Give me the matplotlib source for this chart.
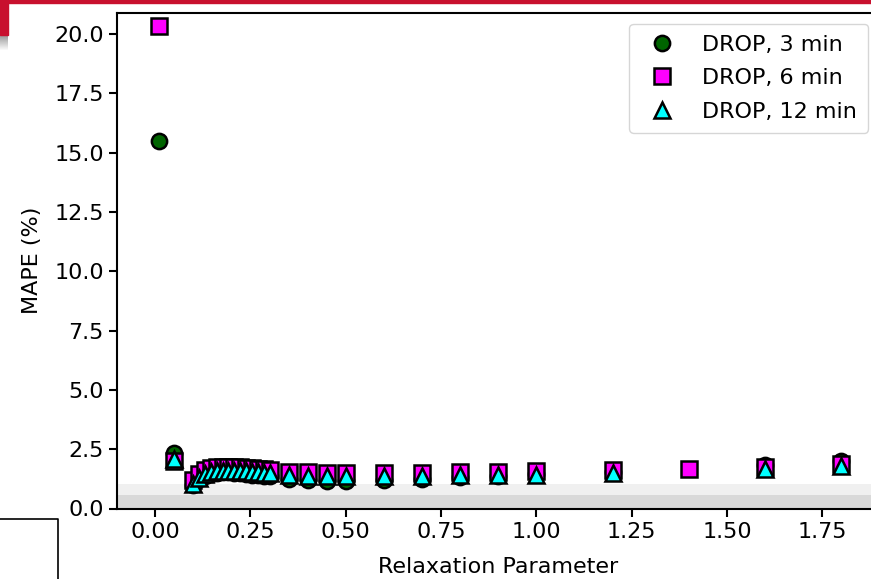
import numpy as np
import matplotlib
matplotlib.use('Agg')
import matplotlib.pyplot as plt
from matplotlib.patches import Rectangle
from matplotlib.lines import Line2D

# relaxation parameter values
relax = [0.01, 0.05, 0.10, 0.115, 0.13, 0.146, 0.162, 0.177, 0.192, 0.208,
         0.223, 0.238, 0.254, 0.269, 0.285, 0.30, 0.35, 0.40, 0.45, 0.50,
         0.60, 0.70, 0.80, 0.90, 1.00, 1.20, 1.40, 1.60, 1.80]
nan = np.nan
mape_3 = [15.5, 2.35, 0.97, 1.25, 1.38, 1.45, 1.50, 1.52, 1.52, 1.50,
          1.48, 1.45, 1.43, 1.40, 1.38, 1.36, 1.25, 1.20, 1.18, 1.17,
          1.20, 1.25, 1.32, 1.38, 1.45, 1.55, nan, 1.83, 2.00]
mape_6 = [20.35, 2.00, 1.20, 1.47, 1.62, 1.70, 1.74, 1.76, 1.76, 1.75,
          1.73, 1.71, 1.69, 1.67, 1.65, 1.63, 1.55, 1.52, 1.50, 1.50,
          1.50, 1.50, 1.52, 1.54, 1.58, 1.62, 1.68, 1.75, 1.88]
mape_12 = [nan, 2.10, 1.05, 1.30, 1.45, 1.52, 1.57, 1.60, 1.60, 1.60,
           1.58, 1.57, 1.55, 1.53, 1.51, 1.50, 1.42, 1.38, 1.37, 1.37,
           1.37, 1.38, 1.40, 1.42, 1.43, 1.48, nan, 1.65, 1.79]

series = [
    (mape_3, 'o', '#006400', 'DROP, 3 min'),
    (mape_6, 's', '#ff00ff', 'DROP, 6 min'),
    (mape_12, '^', '#00ffff', 'DROP, 12 min'),
]

FS = 16
W, H = 871, 579
fig = plt.figure(figsize=(W / 100, H / 100), dpi=100)
# axes runs a bit past the right edge, as in the cropped original
ax = fig.add_axes([117 / W, 70.5 / H, (879.5 - 117) / W, (566.3 - 70.5) / H])

ax.axhspan(0, 1.05, color='#f0f0f0', lw=0, zorder=0)
ax.axhspan(0, 0.55, color='#d9d9d9', lw=0, zorder=0)

for ys, mk, col, lab in series:
    ax.plot(relax, ys, linestyle='none', marker=mk, ms=11, mfc=col,
            mec='k', mew=1.8, label=lab, zorder=3)

ax.set_xlim(-0.1, 1.9)
ax.set_ylim(0, 20.9)
ax.set_xticks([0, 0.25, 0.5, 0.75, 1.0, 1.25, 1.5, 1.75])
ax.set_yticks(np.arange(0, 20.1, 2.5))
ax.tick_params(labelsize=FS, width=1.5, length=6)
for sp in ax.spines.values():
    sp.set_linewidth(1.5)
ax.set_xlabel('Relaxation Parameter', fontsize=FS, labelpad=11)
ax.set_ylabel('MAPE (%)', fontsize=FS, labelpad=9)
ax.legend(loc='upper right', fontsize=FS, numpoints=1, labelspacing=0.6,
          borderpad=0.5)

# bits of the surrounding slide that show in the crop
red = '#c8102e'
fig.patches.append(Rectangle((0, 1 - 3 / H), 1, 3 / H, transform=fig.transFigure,
                             color=red, zorder=10))
fig.patches.append(Rectangle((0, 1 - 35 / H), 8 / W, 35 / H, transform=fig.transFigure,
                             color=red, zorder=10))
for i in range(16):
    g = 0.6 + 0.4 * i / 15
    fig.patches.append(Rectangle((0, 1 - (36 + i) / H), 8 / W, 1 / H,
                                 transform=fig.transFigure, color=(g, g, g), lw=0))
fig.lines.append(Line2D([0, 58 / W, 58 / W], [1 - 519 / H, 1 - 519 / H, 0],
                        transform=fig.transFigure, color='k', lw=1.2))

fig.savefig('out.png', dpi=100)
